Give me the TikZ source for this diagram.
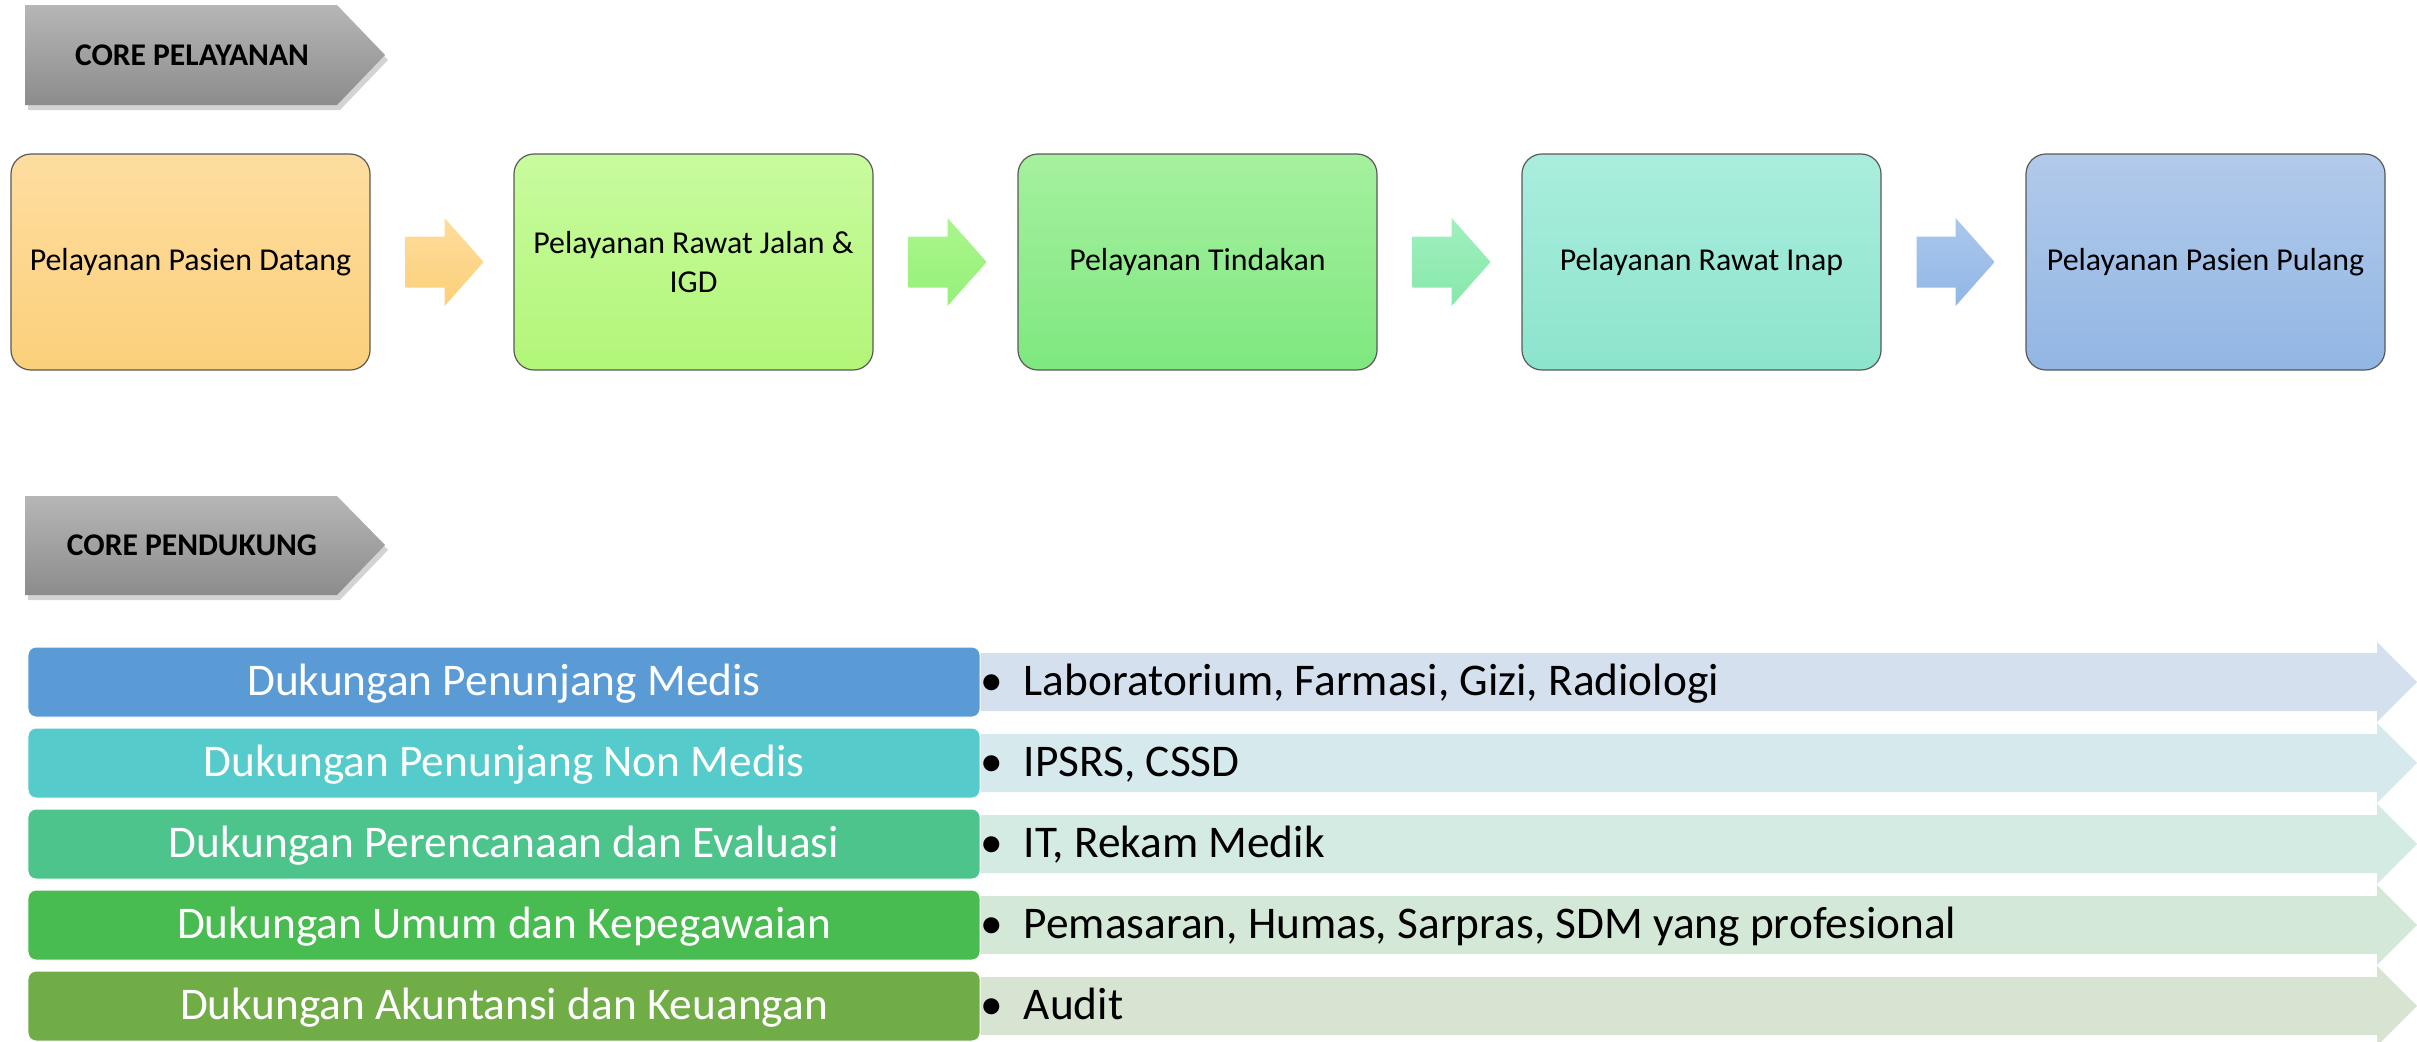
\documentclass[tikz,border=0pt]{standalone}
\usepackage{fontspec}
\setmainfont{Carlito}
\usetikzlibrary{shadows,calc}
\definecolor{bantop}{RGB}{182,182,182}
\definecolor{banbot}{RGB}{140,140,140}
\definecolor{bxa1}{RGB}{253,221,160}\definecolor{bxa2}{RGB}{252,208,122}
\definecolor{bxb1}{RGB}{200,251,158}\definecolor{bxb2}{RGB}{178,246,120}
\definecolor{bxc1}{RGB}{166,240,158}\definecolor{bxc2}{RGB}{126,232,128}
\definecolor{bxd1}{RGB}{170,237,222}\definecolor{bxd2}{RGB}{140,228,205}
\definecolor{bxe1}{RGB}{178,202,234}\definecolor{bxe2}{RGB}{146,182,228}
\definecolor{ara1}{RGB}{253,220,155}\definecolor{ara2}{RGB}{252,208,122}
\definecolor{arb1}{RGB}{170,246,140}\definecolor{arb2}{RGB}{150,240,120}
\definecolor{arc1}{RGB}{160,240,190}\definecolor{arc2}{RGB}{135,232,170}
\definecolor{ard1}{RGB}{170,200,236}\definecolor{ard2}{RGB}{145,182,230}
\definecolor{rowa}{RGB}{91,155,213}\definecolor{rowb}{RGB}{86,203,204}
\definecolor{rowc}{RGB}{78,196,141}\definecolor{rowd}{RGB}{72,188,80}
\definecolor{rowe}{RGB}{112,173,71}
\definecolor{arra}{RGB}{213,224,238}\definecolor{arrb}{RGB}{214,234,238}
\definecolor{arrc}{RGB}{212,235,227}\definecolor{arrd}{RGB}{212,232,215}
\definecolor{arre}{RGB}{216,228,210}
\begin{document}
\begin{tikzpicture}[x=1bp,y=-1bp,
  bannershape/.style={top color=bantop,bottom color=banbot,
    drop shadow={opacity=0.35,shadow xshift=3bp,shadow yshift=-5bp}},
  bannertext/.style={font=\fontsize{31.7}{38}\selectfont\bfseries,inner sep=0pt},
  topbox/.style={draw=black!65,line width=1.2bp,rounded corners=20bp,
    minimum width=359bp,minimum height=216bp,align=center,inner sep=0pt,
    font=\fontsize{32}{38.5}\selectfont},
  leftbox/.style={rounded corners=8bp,draw=white,line width=1bp,
    minimum width=952bp,minimum height=70bp,inner sep=0pt,text=white,
    font=\fontsize{45.5}{54}\selectfont,text height=27bp,text depth=0bp},
  righttext/.style={anchor=west,inner sep=0pt,
    font=\fontsize{45.5}{54}\selectfont,text height=27bp,text depth=0bp}]
\useasboundingbox (0,0) rectangle (2417,1041);
% banners
\path[bannershape] (25,5) -- (337,5) -- (385,55) -- (337,105) -- (25,105) -- cycle;
\node[bannertext] (ban1) at (192,55) {CORE PELAYANAN};
\path[bannershape] (25,496) -- (337,496) -- (385,545) -- (337,595) -- (25,595) -- cycle;
\node[bannertext] (ban2) at (192,545) {CORE PENDUKUNG};
% top boxes
\node[topbox,top color=bxa1,bottom color=bxa2] (b1) at (190.5,262) {Pelayanan Pasien Datang};
\node[topbox,top color=bxb1,bottom color=bxb2] (b2) at (693.5,262) {Pelayanan Rawat Jalan \&\\IGD};
\node[topbox,top color=bxc1,bottom color=bxc2] (b3) at (1197.5,262) {Pelayanan Tindakan};
\node[topbox,top color=bxd1,bottom color=bxd2] (b4) at (1701.5,262) {Pelayanan Rawat Inap};
\node[topbox,top color=bxe1,bottom color=bxe2] (b5) at (2205.5,262) {Pelayanan Pasien Pulang};
% block arrows between boxes
\foreach \s/\t/\c in {b1/b2/ara,b2/b3/arb,b3/b4/arc,b4/b5/ard}{
  \shade[top color=\c1,bottom color=\c2]
    ($(\s.east)+(35,-25.5)$) -- ($(\s.east)+(74,-25.5)$) -- ($(\s.east)+(74,-44)$)
    -- ($(\s.east)+(113,0)$) -- ($(\s.east)+(74,44)$) -- ($(\s.east)+(74,25.5)$)
    -- ($(\s.east)+(35,25.5)$) -- cycle;
}
% bottom rows
\foreach \i/\y/\c/\a/\lt/\rt in {
  1/682/rowa/arra/{Dukungan Penunjang Medis}/{Laboratorium, Farmasi, Gizi, Radiologi},
  2/763/rowb/arrb/{Dukungan Penunjang Non Medis}/{IPSRS, CSSD},
  3/844/rowc/arrc/{Dukungan Perencanaan dan Evaluasi}/{IT, Rekam Medik},
  4/925/rowd/arrd/{Dukungan Umum dan Kepegawaian}/{Pemasaran, Humas, Sarpras, SDM yang profesional},
  5/1006/rowe/arre/{Dukungan Akuntansi dan Keuangan}/{Audit}}{
  \fill[\a] (976,\y-29) -- (2377,\y-29) -- (2377,\y-40) -- (2417,\y)
    -- (2377,\y+40) -- (2377,\y+29) -- (976,\y+29) -- cycle;
  \node[leftbox,fill=\c] (l\i) at (504,\y) {\lt};
  \node[righttext] (r\i) at (980,\y) {\textbullet\hspace{21bp}\rt};
}
\end{tikzpicture}
\end{document}
